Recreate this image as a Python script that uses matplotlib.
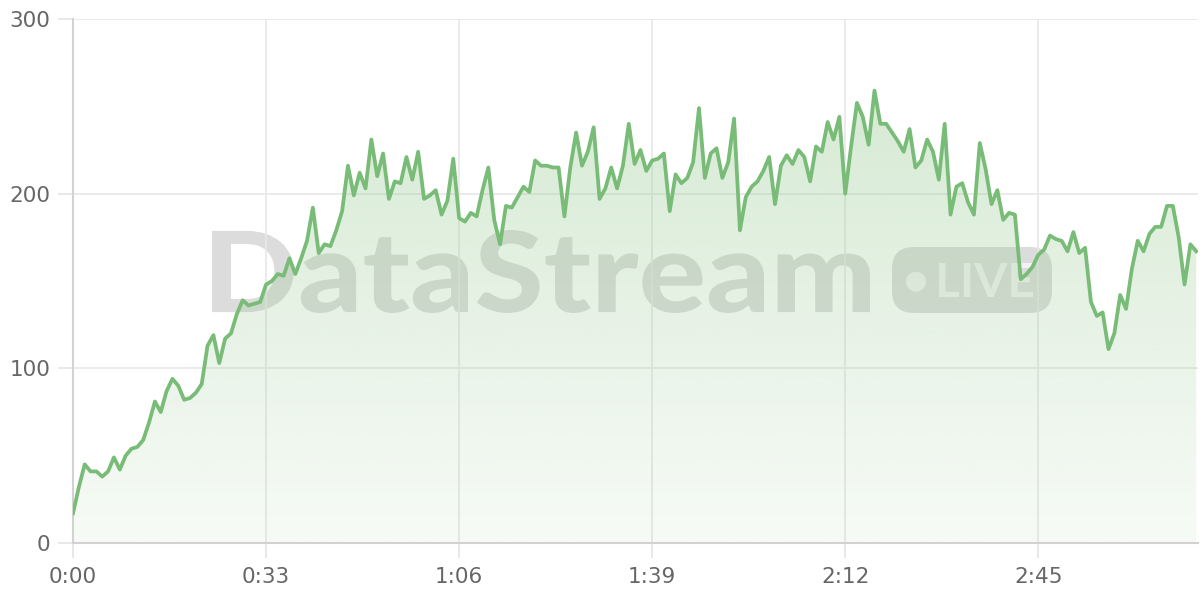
import numpy as np
import matplotlib
matplotlib.use('Agg')
import matplotlib.pyplot as plt
import matplotlib.transforms as mtransforms
from matplotlib.textpath import TextPath
from matplotlib.patches import PathPatch, FancyBboxPatch, Circle
from matplotlib.font_manager import FontProperties

# viewers per second
viewers = [17, 32, 45, 41, 41, 38, 41, 49, 42, 50, 54, 55, 59, 69, 81, 75, 87, 94, 90, 82,
           83, 86, 91, 113, 119, 103, 117, 120, 131, 139, 136, 137, 138, 148, 150, 154, 153, 163, 154, 163,
           173, 192, 166, 171, 170, 179, 190, 216, 199, 212, 203, 231, 210, 223, 197, 207, 206, 221, 208, 224,
           197, 199, 202, 188, 196, 220, 186, 184, 189, 187, 202, 215, 185, 171, 193, 192, 198, 204, 201, 219,
           216, 216, 215, 215, 187, 215, 235, 216, 224, 238, 197, 203, 215, 203, 216, 240, 217, 225, 213, 219,
           220, 223, 190, 211, 206, 209, 218, 249, 209, 223, 226, 209, 218, 243, 179, 198, 204, 207, 213, 221,
           194, 216, 222, 217, 225, 221, 207, 227, 224, 241, 231, 244, 200, 227, 252, 244, 228, 259, 240, 240,
           235, 230, 224, 237, 215, 219, 231, 224, 208, 240, 188, 204, 206, 195, 188, 229, 214, 194, 202, 185,
           189, 188, 151, 154, 158, 165, 168, 176, 174, 173, 167, 178, 166, 169, 138, 130, 132, 111, 120, 142,
           134, 157, 173, 167, 177, 181, 181, 193, 193, 175, 148, 171, 167]
seconds = np.arange(len(viewers))

xticks = [0, 33, 66, 99, 132, 165]
xlabels = ['0:00', '0:33', '1:06', '1:39', '2:12', '2:45']
yticks = [0, 100, 200, 300]

line_col = '#78bc77'
fill_rgb = (153/255, 203/255, 147/255)
wm_col = '#dcdcdc'

fig = plt.figure(figsize=(12, 6), dpi=100)
ax = fig.add_axes([73/1200, 57/600, 1125/1200, 524/600])

# gradient area under the line
poly = ax.fill_between(seconds, viewers, 0, facecolor='none', edgecolor='none')
grad = np.zeros((256, 1, 4))
grad[:, :, :3] = fill_rgb
grad[:, 0, 3] = np.linspace(0.08, 0.45, 256)
im = ax.imshow(grad, extent=[0, seconds[-1], 0, 300], aspect='auto', origin='lower', zorder=1)
im.set_clip_path(poly.get_paths()[0], transform=ax.transData)

ax.plot(seconds, viewers, color=line_col, lw=2.7, solid_joinstyle='round', zorder=3)

ax.set_xlim(0, 192.3)
ax.set_ylim(0, 300)
ax.set_xticks(xticks)
ax.set_xticklabels(xlabels)
ax.set_yticks(yticks)
ax.grid(True, color='#e8e8e8', lw=1.2)
ax.set_axisbelow(True)
ax.tick_params(axis='both', length=10.8, width=1.2, color='#e4e4e4',
               labelcolor='#666666', labelsize=15.5)
ax.tick_params(axis='y', pad=5.5)
ax.tick_params(axis='x', pad=6.5)
for s in ['top', 'right']:
    ax.spines[s].set_visible(False)
for s in ['left', 'bottom']:
    ax.spines[s].set_color('#d2d2d2')
    ax.spines[s].set_linewidth(1.5)

# watermark, in pixel coordinates (origin top-left)
px = mtransforms.Affine2D().scale(1, -1).translate(0, 600).scale(1/100) + fig.dpi_scale_trans


def fitted_text(s, prop, x0, x1, ytop, ybase, color, z):
    tp = TextPath((0, 0), s, size=100, prop=prop)
    ext = tp.get_extents()
    sx = (x1 - x0) / ext.width
    sy = (ybase - ytop) / ext.height
    tr = mtransforms.Affine2D().translate(-ext.x0, -ext.y0).scale(sx, -sy).translate(x0, ybase)
    return PathPatch(tp, transform=tr + px, facecolor=color, edgecolor='none', zorder=z, clip_on=False)


heavy = FontProperties(family=['Lato', 'DejaVu Sans'], weight='black')
ax.add_patch(fitted_text('DataStream', heavy, 212, 870, 230, 313, wm_col, 0.2))
badge = FancyBboxPatch((892 + 22, 247 + 22), 160 - 44, 66 - 44,
                       boxstyle='round,pad=22', transform=px,
                       facecolor=wm_col, edgecolor='none', zorder=0.2, clip_on=False)
ax.add_patch(badge)
ax.add_patch(Circle((916, 281.7), 10, transform=px, facecolor='#f2f2f2',
                    edgecolor='none', zorder=0.25, clip_on=False))
medium = FontProperties(family=['Lato', 'DejaVu Sans'], weight='bold')
ax.add_patch(fitted_text('LIVE', medium, 939, 1033, 263, 297, '#f2f2f2', 0.25))

fig.savefig('out.png', dpi=100)
